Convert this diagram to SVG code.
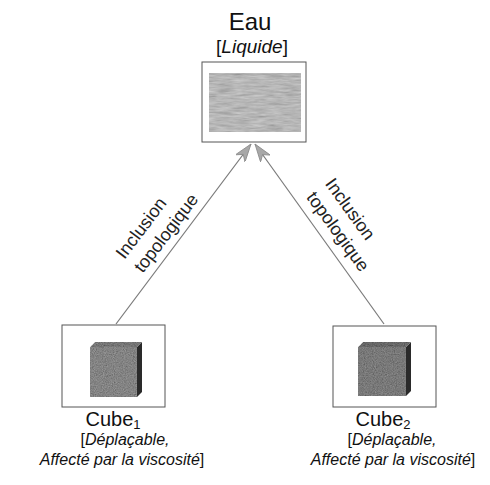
<svg xmlns="http://www.w3.org/2000/svg" width="490" height="485" viewBox="0 0 490 485">
  <style>
    .title { font-family: "Liberation Sans", Arial, sans-serif; fill: #111; text-anchor: middle; }
    .attr { font-family: "Liberation Sans", Arial, sans-serif; font-style: italic; font-size: 16px; fill: #111; text-anchor: middle; }
    .attr .br { font-style: normal; }
    .lbl { font-family: "Liberation Sans", Arial, sans-serif; font-size: 18px; fill: #222; text-anchor: start; }
    .frame { fill: #fff; stroke: #555; stroke-width: 1; }
    .edge { fill: none; stroke: #7a7a7a; stroke-width: 1.2; marker-end: url(#head); }
  </style>
  <defs>
    <!-- mottled grey texture for the water and cube surfaces -->
    <filter id="grain" x="0" y="0" width="100%" height="100%">
      <feTurbulence type="fractalNoise" baseFrequency="0.06 0.5" numOctaves="3" seed="4" result="n"/>
      <feColorMatrix in="n" type="matrix" values="0.4 0.4 0 0 0.35  0.4 0.4 0 0 0.35  0.4 0.4 0 0 0.35  0 0 0 0 1" result="g"/>
      <feBlend in="SourceGraphic" in2="g" mode="multiply" result="b"/>
      <feComposite in="b" in2="SourceGraphic" operator="in"/>
    </filter>
    <filter id="speck" x="0" y="0" width="100%" height="100%">
      <feTurbulence type="fractalNoise" baseFrequency="0.9" numOctaves="2" seed="7" result="n"/>
      <feColorMatrix in="n" type="matrix" values="0.6 0.6 0 0 0.1  0.6 0.6 0 0 0.1  0.6 0.6 0 0 0.1  0 0 0 0 1" result="g"/>
      <feBlend in="SourceGraphic" in2="g" mode="multiply" result="b"/>
      <feComposite in="b" in2="SourceGraphic" operator="in"/>
    </filter>
    <marker id="head" viewBox="0 0 18 12" refX="18" refY="6" markerWidth="18" markerHeight="12" markerUnits="userSpaceOnUse" orient="auto">
      <path d="M0,0 L18,6 L0,12 L5,6 z" fill="#a8a8a8" stroke="#8a8a8a" stroke-width="0.8"/>
    </marker>
  </defs>

  <!-- connectors -->
  <g id="edges">
    <line class="edge" x1="116" y1="324" x2="251" y2="144"/>
    <line class="edge" x1="384" y1="324" x2="255" y2="144"/>
    <g transform="translate(183,234) rotate(-52.9)">
      <text class="lbl" x="-56" y="-31">Inclusion</text>
      <text class="lbl" x="-56" y="-8">topologique</text>
    </g>
    <g transform="translate(320,234) rotate(54.1)">
      <text class="lbl" x="-38" y="-33">Inclusion</text>
      <text class="lbl" x="-38" y="-10">topologique</text>
    </g>
  </g>

  <!-- Eau -->
  <g id="eau">
    <text class="title" x="250" y="30" font-size="24">Eau</text>
    <text class="attr" x="252" y="53" style="font-size:19px"><tspan class="br">[</tspan>Liquide<tspan class="br">]</tspan></text>
    <rect class="frame" x="202" y="62" width="104" height="80"/>
    <rect x="209" y="73" width="92" height="59" fill="#cfcfcf" filter="url(#grain)"/>
  </g>

  <!-- Cube 1 -->
  <g id="cube1">
    <rect class="frame" x="62" y="325" width="103" height="82"/>
    <polygon points="90,347 95,342 142,342 137,347" fill="#8a8a8a" filter="url(#speck)"/>
    <polygon points="137,347 142,342 142,392 137,397" fill="#2a2a2a"/>
    <rect x="90" y="347" width="47" height="50" fill="#9a9a9a" filter="url(#speck)"/>
    <text class="title" x="113" y="426" font-size="20">Cube<tspan font-size="13" dy="3">1</tspan></text>
    <text class="attr" x="125" y="445"><tspan class="br">[</tspan>Déplaçable,</text>
    <text class="attr" x="122" y="465">Affecté par la viscosité<tspan class="br">]</tspan></text>
  </g>

  <!-- Cube 2 -->
  <g id="cube2">
    <rect class="frame" x="333" y="326" width="103" height="81"/>
    <polygon points="358,347 363,342 411,342 406,347" fill="#7a7a7a" filter="url(#speck)"/>
    <polygon points="406,347 411,342 411,391 406,396" fill="#2a2a2a"/>
    <rect x="358" y="347" width="48" height="49" fill="#8e8e8e" filter="url(#speck)"/>
    <text class="title" x="383" y="426" font-size="20">Cube<tspan font-size="13" dy="3">2</tspan></text>
    <text class="attr" x="392" y="445"><tspan class="br">[</tspan>Déplaçable,</text>
    <text class="attr" x="393" y="465">Affecté par la viscosité<tspan class="br">]</tspan></text>
  </g>
</svg>
